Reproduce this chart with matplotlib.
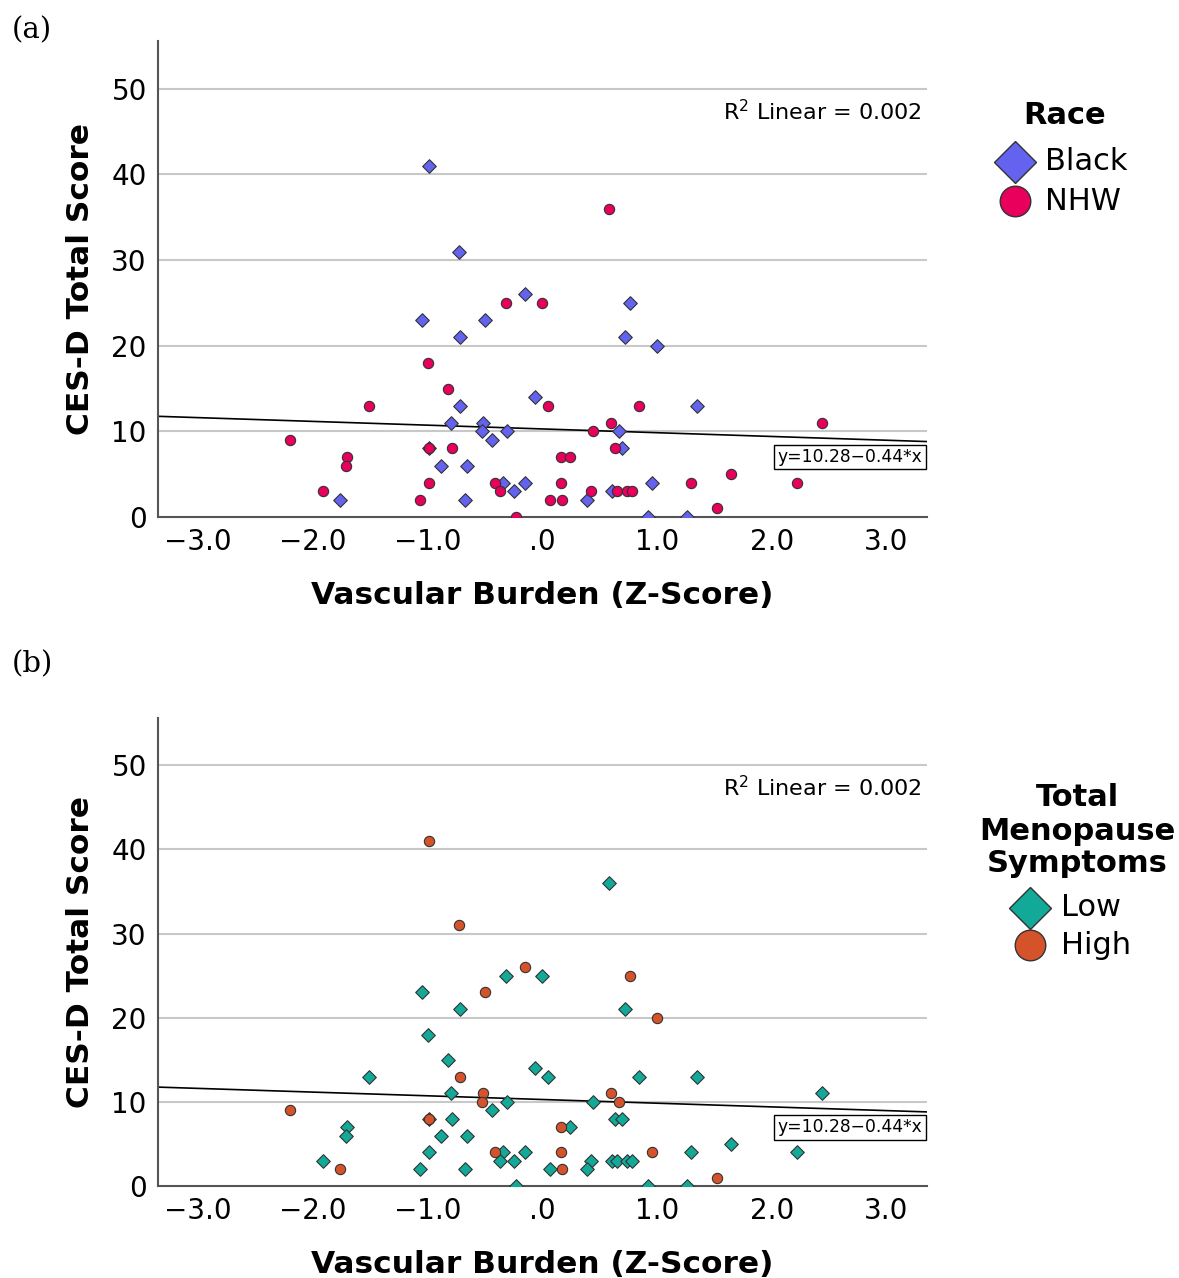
import numpy as np
import matplotlib.pyplot as plt
from matplotlib.lines import Line2D

# vascular burden z-score, CES-D score, race group, menopause symptom group
vascular = [-0.99, -0.73, -0.32, -0.15, 0.00, -1.05, -0.50, -0.72, -1.00, -0.82,
            -0.06, -0.72, -1.51, 0.05, -0.80, -0.52, -0.53, -0.31, -0.44, -2.20,
            -0.99, -0.99, -0.79, -1.70, -1.71, -0.88, -0.66, -0.99, -0.41, -0.34,
            -0.15, -0.37, -0.25, -1.91, -1.76, -1.07, -0.67, -0.23, 0.58, 0.76,
            0.72, 1.00, 0.84, 1.35, 0.60, 2.44, 0.44, 0.67, 0.63, 0.69,
            0.16, 0.24, 1.64, 0.16, 0.96, 1.30, 2.22, 0.42, 0.61, 0.65,
            0.74, 0.78, 0.07, 0.17, 0.39, 1.52, 0.92, 1.26]
cesd = [41, 31, 25, 26, 25, 23, 23, 21, 18, 15,
        14, 13, 13, 13, 11, 11, 10, 10, 9, 9,
        8, 8, 8, 7, 6, 6, 6, 4, 4, 4,
        4, 3, 3, 3, 2, 2, 2, 0, 36, 25,
        21, 20, 13, 13, 11, 11, 10, 10, 8, 8,
        7, 7, 5, 4, 4, 4, 4, 3, 3, 3,
        3, 3, 2, 2, 2, 1, 0, 0]
race = ["B", "B", "N", "B", "N", "B", "B", "B", "N", "N",
        "B", "B", "N", "N", "B", "B", "B", "B", "B", "N",
        "B", "N", "N", "N", "N", "B", "B", "N", "N", "B",
        "B", "N", "B", "N", "B", "N", "B", "N", "N", "B",
        "B", "B", "N", "B", "N", "N", "N", "B", "N", "B",
        "N", "N", "N", "N", "B", "N", "N", "N", "B", "N",
        "N", "N", "N", "N", "B", "N", "B", "B"]
meno = ["H", "H", "L", "H", "L", "L", "H", "L", "L", "L",
        "L", "H", "L", "L", "L", "H", "H", "L", "L", "H",
        "L", "H", "L", "L", "L", "L", "L", "L", "H", "L",
        "L", "L", "L", "L", "H", "L", "L", "L", "L", "H",
        "L", "H", "L", "L", "H", "L", "L", "H", "L", "L",
        "H", "L", "L", "H", "H", "L", "L", "L", "L", "L",
        "L", "L", "L", "H", "L", "H", "L", "L"]

intercept, slope = 10.28, -0.44
r2_text = "R$^{2}$ Linear = 0.002"
eq_text = "y=10.28\u22120.44*x"

xticks = [-3, -2, -1, 0, 1, 2, 3]
xticklabels = ["\u22123.0", "\u22122.0", "\u22121.0", ".0", "1.0", "2.0", "3.0"]
yticks = [0, 10, 20, 30, 40, 50]

vascular = np.array(vascular)
cesd = np.array(cesd)
race = np.array(race)
meno = np.array(meno)

plt.rcParams['font.family'] = ['DejaVu Sans']

W, H = 1179, 1278
fig = plt.figure(figsize=(W / 100, H / 100), dpi=100)
ax_a = fig.add_axes([0.134, 0.5955, 0.652, 0.3725])
ax_b = fig.add_axes([0.134, 0.072, 0.652, 0.366])

XLIM = (-3.35, 3.35)
YLIM = (0, 55.6)


def px(x, y):
    # pixel position -> figure fraction
    return x / W, 1 - y / H


def style_axes(ax):
    ax.set_xlim(*XLIM)
    ax.set_ylim(*YLIM)
    ax.set_xticks(xticks)
    ax.set_xticklabels(xticklabels)
    ax.set_yticks(yticks)
    ax.tick_params(axis='both', length=0, labelsize=20, pad=8)
    for side in ["top", "right"]:
        ax.spines[side].set_visible(False)
    for side in ["left", "bottom"]:
        ax.spines[side].set_color("#555555")
        ax.spines[side].set_linewidth(1.5)
    for yv in yticks[1:]:
        ax.axhline(yv, color="#c8c8c8", lw=1.5, zorder=0)
    ax.set_xlabel("Vascular Burden (Z-Score)", fontsize=22.5, fontweight='bold', labelpad=18)
    ax.set_ylabel("CES-D Total Score", fontsize=22.5, fontweight='bold', labelpad=12)
    xs = np.array(XLIM)
    ax.plot(xs, intercept + slope * xs, color="black", lw=1.2, zorder=2)
    ax.text(3.31, 47.3, r2_text, ha='right', va='center', fontsize=16)
    ax.text(3.31, 7.0, eq_text, ha='right', va='center', fontsize=12.3,
            bbox=dict(boxstyle='square,pad=0.2', fc='white', ec='black', lw=1), zorder=4)


def draw_legend(title_lines, title_y, labels, colors, mx, tx, ys):
    for line, ty in zip(title_lines, title_y):
        fig.text(*px(title_x[0], ty), line, fontsize=22, fontweight='bold', ha='center', va='center')
    for lab, col, mk, ms, y in zip(labels, colors, ['D', 'o'], [21, 22], ys):
        fig.add_artist(Line2D([mx / W], [1 - y / H], transform=fig.transFigure, marker=mk, ls='',
                              ms=ms, mfc=col, mec="#333333", mew=1))
        fig.text(*px(tx, y), lab, fontsize=22, ha='left', va='center')


# panel (a): race
blue, pink = "#6363f0", "#e8005c"
m = race == "B"
ax_a.scatter(vascular[m], cesd[m], marker='D', s=48, c=blue, edgecolors="#333333", linewidths=0.8, zorder=3)
m = race == "N"
ax_a.scatter(vascular[m], cesd[m], marker='o', s=55, c=pink, edgecolors="#333333", linewidths=0.8, zorder=3)
style_axes(ax_a)
title_x = [1065]
draw_legend(["Race"], [116], ["Black", "NHW"], [blue, pink], 1015, 1045, [162, 201])

# panel (b): menopause symptoms
teal, orange = "#12a998", "#d5532a"
m = meno == "L"
ax_b.scatter(vascular[m], cesd[m], marker='D', s=48, c=teal, edgecolors="#333333", linewidths=0.8, zorder=3)
m = meno == "H"
ax_b.scatter(vascular[m], cesd[m], marker='o', s=55, c=orange, edgecolors="#333333", linewidths=0.8, zorder=3)
style_axes(ax_b)
title_x = [1077]
draw_legend(["Total", "Menopause", "Symptoms"], [798, 831, 863], ["Low", "High"], [teal, orange],
            1030, 1061, [908, 945])

fig.text(*px(12, 30), "(a)", fontsize=21, family='DejaVu Serif', va='center')
fig.text(*px(12, 664), "(b)", fontsize=21, family='DejaVu Serif', va='center')

fig.savefig("out.png", dpi=100)
